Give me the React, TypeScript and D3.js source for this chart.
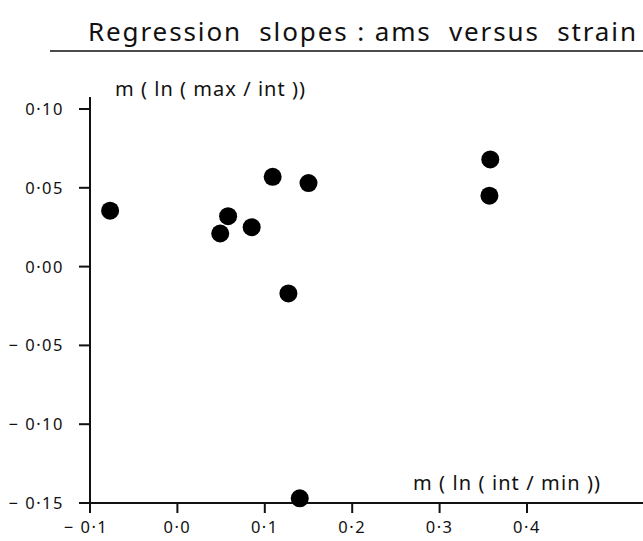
import React from "react";
import * as d3 from "d3";

const xValues = [-0.077, 0.049, 0.058, 0.085, 0.109, 0.127, 0.150, 0.140, 0.358, 0.357];
const yValues = [0.0355, 0.021, 0.032, 0.025, 0.057, -0.017, 0.053, -0.147, 0.068, 0.045];
const xTicks = [-0.1, 0.0, 0.1, 0.2, 0.3, 0.4];
const xTickLabels = ["− 0·1", "0·0", "0·1", "0·2", "0·3", "0·4"];
const yTicks = [0.1, 0.05, 0.0, -0.05, -0.1, -0.15];
const yTickLabels = ["0·10", "0·05", "0·00", "− 0·05", "− 0·10", "− 0·15"];
const title = "Regression  slopes : ams  versus  strain";
const yLabel = "m ( ln ( max / int ))";
const xLabel = "m ( ln ( int / min ))";

export default function App() {
  const W = 643, H = 541;
  const x = d3.scaleLinear().domain([-0.1, 0.4]).range([90, 527]);
  const y = d3.scaleLinear().domain([-0.15, 0.1]).range([503, 109]);
  const font = "'Noto Sans', 'DejaVu Sans', sans-serif";
  return (
    <svg width={W} height={H} style={{ position: "absolute", left: 0, top: 0, background: "#fff" }} fontFamily={font}>
      <text x={88} y={41} fontSize={26} textLength={548} lengthAdjust="spacing" fill="#111" style={{ whiteSpace: "pre" }}>{title}</text>
      <line x1={50} x2={643} y1={51} y2={51} stroke="#111" strokeWidth={1.5} />
      <text x={115} y={96} fontSize={20} textLength={190} lengthAdjust="spacing" fill="#111" style={{ whiteSpace: "pre" }}>{yLabel}</text>
      <text x={413} y={490} fontSize={20} textLength={187} lengthAdjust="spacing" fill="#111" style={{ whiteSpace: "pre" }}>{xLabel}</text>
      <line x1={x(-0.1)} x2={x(-0.1)} y1={97} y2={512} stroke="#111" strokeWidth={2} />
      <line x1={83} x2={643} y1={y(-0.15)} y2={y(-0.15)} stroke="#111" strokeWidth={2} />
      {yTicks.map((t, i) => (
        <g key={"y" + i}>
          <line x1={x(-0.1) - 11} x2={x(-0.1)} y1={y(t)} y2={y(t)} stroke="#111" strokeWidth={2} />
          <text x={64} y={y(t) + 6} fontSize={16.5} letterSpacing={1.5} textAnchor="end" fill="#111" style={{ whiteSpace: "pre" }}>{yTickLabels[i]}</text>
        </g>
      ))}
      {xTicks.map((t, i) => (
        <g key={"x" + i}>
          <line x1={x(t)} x2={x(t)} y1={y(-0.15)} y2={y(-0.15) + 10} stroke="#111" strokeWidth={2} />
          <text x={x(t) + (i === 0 ? -4 : 0)} y={533} fontSize={16.5} letterSpacing={1.5} textAnchor="middle" fill="#111" style={{ whiteSpace: "pre" }}>{xTickLabels[i]}</text>
        </g>
      ))}
      {xValues.map((v, i) => (
        <circle key={"p" + i} cx={x(v)} cy={y(yValues[i])} r={9} fill="#000" />
      ))}
    </svg>
  );
}
